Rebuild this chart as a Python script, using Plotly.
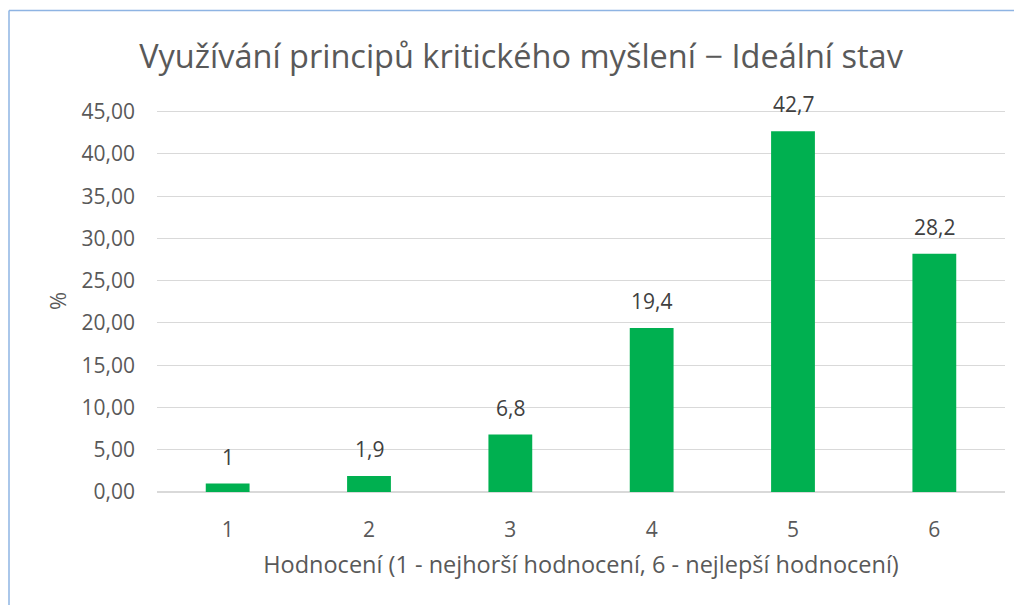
import plotly.graph_objects as go

categories = ["1", "2", "3", "4", "5", "6"]
values = [1.0, 1.9, 6.8, 19.4, 42.7, 28.2]
labels = [f"{v:g}".replace(".", ",") for v in values]
y_ticks = [0, 5, 10, 15, 20, 25, 30, 35, 40, 45]

title_text = "Využívání principů kritického myšlení − Ideální stav"
x_title = "Hodnocení (1 - nejhorší hodnocení, 6 - nejlepší hodnocení)"
y_title = "%"

# page body has an 8px margin; figure sized to fit the 1022x605 window
OFF = 8
W, H = 1022 - OFF, 605 - OFF
ml, mt = 157 - OFF, 110 - OFF
mr = W - (1005 - OFF)
mb = H - (492 - OFF)
pw, ph = W - ml - mr, H - mt - mb

FONT = "Open Sans, sans-serif"
GREY = "#595959"

fig = go.Figure()
fig.add_trace(go.Bar(
    x=categories, y=values,
    marker=dict(color="#00B050", line=dict(width=0)),
    width=0.31,
    hoverinfo="skip",
))

for i, (v, t) in enumerate(zip(values, labels)):
    fig.add_annotation(x=i, y=v, text=t, showarrow=False, yanchor="bottom",
                       yshift=11, font=dict(size=21, color="#404040", family=FONT))

# chart border (top and left visible)
bx = (1 - ml) / pw
by = (H - mb - (10.5 - OFF)) / ph
fig.add_shape(type="line", xref="paper", yref="paper", x0=bx, x1=bx, y0=-1, y1=by,
              line=dict(color="#8EB4E3", width=1.5))
fig.add_shape(type="line", xref="paper", yref="paper", x0=bx, x1=1.5, y0=by, y1=by,
              line=dict(color="#8EB4E3", width=1.5))

fig.update_layout(
    width=W, height=H,
    margin=dict(l=ml, r=mr, t=mt, b=mb),
    paper_bgcolor="white", plot_bgcolor="white",
    separators=", ",
    showlegend=False,
    title=dict(text=title_text, x=(521 - OFF) / W, xanchor="center",
               y=1 - (57 - OFF) / H, yanchor="middle",
               font=dict(size=32.5, color=GREY, family=FONT)),
    xaxis=dict(
        type="category", range=[-0.5, 5.5],
        title=dict(text=x_title, font=dict(size=23.5, color=GREY, family=FONT), standoff=14),
        tickfont=dict(size=21, color=GREY, family=FONT),
        showgrid=False, showline=False, zeroline=False,
        ticks="", ticklabelstandoff=23,
    ),
    yaxis=dict(
        title=dict(text=y_title, font=dict(size=22, color=GREY, family=FONT), standoff=8),
        range=[0, 45.2], tickvals=y_ticks, tickformat=".2f",
        tickfont=dict(size=21, color=GREY, family=FONT),
        showgrid=True, gridcolor="#D9D9D9", gridwidth=1,
        zeroline=True, zerolinecolor="#D9D9D9", zerolinewidth=1.5,
        showline=False, ticks="", ticklabelstandoff=21,
    ),
)

fig.write_html("out.html")
